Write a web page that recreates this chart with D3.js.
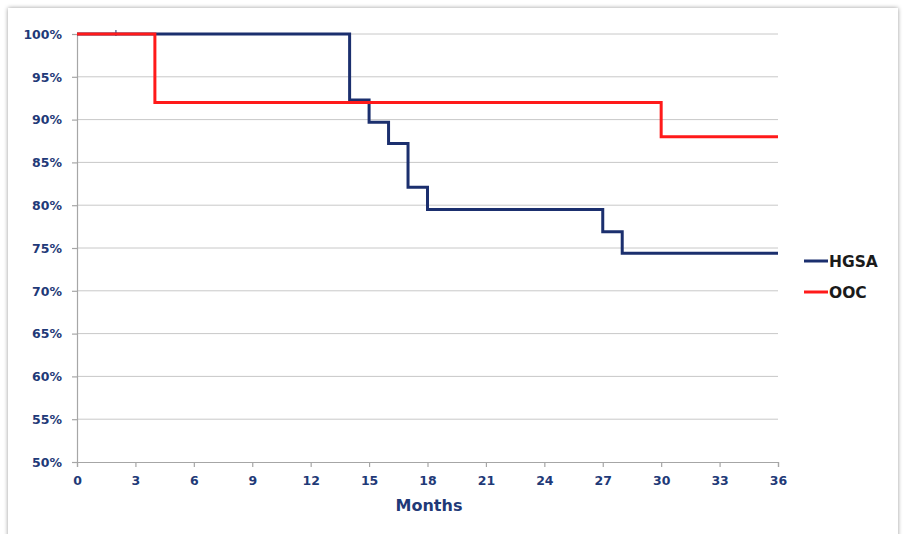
<!DOCTYPE html>
<html>
<head>
<meta charset="utf-8">
<script src="https://cdn.jsdelivr.net/npm/d3@7/dist/d3.min.js"></script>
<style>
  html, body { margin: 0; padding: 0; background: #ffffff; }
  svg { display: block; }
  text { font-family: "DejaVu Sans", Verdana, sans-serif; font-weight: bold; }
</style>
</head>
<body>
<svg id="chart" width="903" height="534"></svg>
<script>
// Survival curves (percent surviving by month)
const hgsaMonths = [0, 14, 15, 16, 17, 18, 27, 28, 36];
const hgsaSurvival = [100, 92.3, 89.7, 87.2, 82.1, 79.5, 76.9, 74.4, 74.4];
const oocMonths = [0, 4, 30, 36];
const oocSurvival = [100, 92, 88, 88];
const hgsaCensored = [2];

const xTicks = [0, 3, 6, 9, 12, 15, 18, 21, 24, 27, 30, 33, 36];
const yTicks = [50, 55, 60, 65, 70, 75, 80, 85, 90, 95, 100];

const seriesNames = ["HGSA", "OOC"];
const seriesColors = ["#1b2f6e", "#ff1a1a"];

const svg = d3.select("#chart");
const labelColor = "#1f3a78";

// Outer frame with soft shadow
const defs = svg.append("defs");
const f = defs.append("filter").attr("id", "shadow")
  .attr("x", "-5%").attr("y", "-5%").attr("width", "110%").attr("height", "110%");
f.append("feDropShadow").attr("dx", 0).attr("dy", 0)
  .attr("stdDeviation", 2.2).attr("flood-color", "#000").attr("flood-opacity", 0.4);
svg.append("rect")
  .attr("x", 8).attr("y", 8).attr("width", 890).attr("height", 540)
  .attr("fill", "#fff").attr("filter", "url(#shadow)");

const x = d3.scaleLinear().domain([0, 36]).range([77, 778]);
const y = d3.scaleLinear().domain([50, 100]).range([462, 34]);

// Horizontal gridlines
svg.append("g").selectAll("line").data(yTicks.filter(d => d > 50)).join("line")
  .attr("x1", x(0)).attr("x2", x(36))
  .attr("y1", d => y(d)).attr("y2", d => y(d))
  .attr("stroke", "#c8c8c8").attr("stroke-width", 1);

// Axes
const yAxis = svg.append("g").attr("transform", `translate(${x(0)},0)`)
  .call(d3.axisLeft(y).tickValues(yTicks).tickSize(5).tickPadding(10)
    .tickFormat(d => d + "%"));
const xAxis = svg.append("g").attr("transform", `translate(0,${y(50)})`)
  .call(d3.axisBottom(x).tickValues(xTicks).tickSize(5).tickPadding(9));

[yAxis, xAxis].forEach(g => {
  g.select(".domain").attr("stroke", "#a6a6a6").attr("stroke-width", 1.2);
  g.selectAll(".tick line").attr("stroke", "#a6a6a6").attr("stroke-width", 1.2);
  g.selectAll(".tick text").attr("fill", labelColor)
    .style("font-size", "12.5px").style("font-weight", "bold")
    .style("font-family", "'DejaVu Sans', sans-serif");
});
yAxis.selectAll(".tick text").attr("dy", "0.35em");

// Axis title
svg.append("text").attr("x", 429).attr("y", 511)
  .attr("text-anchor", "middle").attr("fill", labelColor)
  .style("font-size", "16px").text("Months");

// Step lines
const line = d3.line().curve(d3.curveStepAfter)
  .x(d => x(d[0])).y(d => y(d[1]));

const hgsaData = hgsaMonths.map((m, i) => [m, hgsaSurvival[i]]);
const oocData = oocMonths.map((m, i) => [m, oocSurvival[i]]);

svg.append("path").datum(hgsaData).attr("d", line)
  .attr("fill", "none").attr("stroke", seriesColors[0]).attr("stroke-width", 3);

// Censor marks
svg.append("g").selectAll("line").data(hgsaCensored).join("line")
  .attr("x1", d => x(d)).attr("x2", d => x(d))
  .attr("y1", y(100) - 4).attr("y2", y(100) + 2)
  .attr("stroke", seriesColors[0]).attr("stroke-width", 1);

svg.append("path").datum(oocData).attr("d", line)
  .attr("fill", "none").attr("stroke", seriesColors[1]).attr("stroke-width", 3);

// Legend
const legend = svg.append("g");
seriesNames.forEach((name, i) => {
  const ly = 261 + i * 31;
  legend.append("line").attr("x1", 804).attr("x2", 828)
    .attr("y1", ly).attr("y2", ly)
    .attr("stroke", seriesColors[i]).attr("stroke-width", 3);
  legend.append("text").attr("x", 829).attr("y", ly).attr("dy", "0.36em")
    .attr("fill", "#1a1a1a").style("font-size", "15.5px").text(name);
});
</script>
</body>
</html>
